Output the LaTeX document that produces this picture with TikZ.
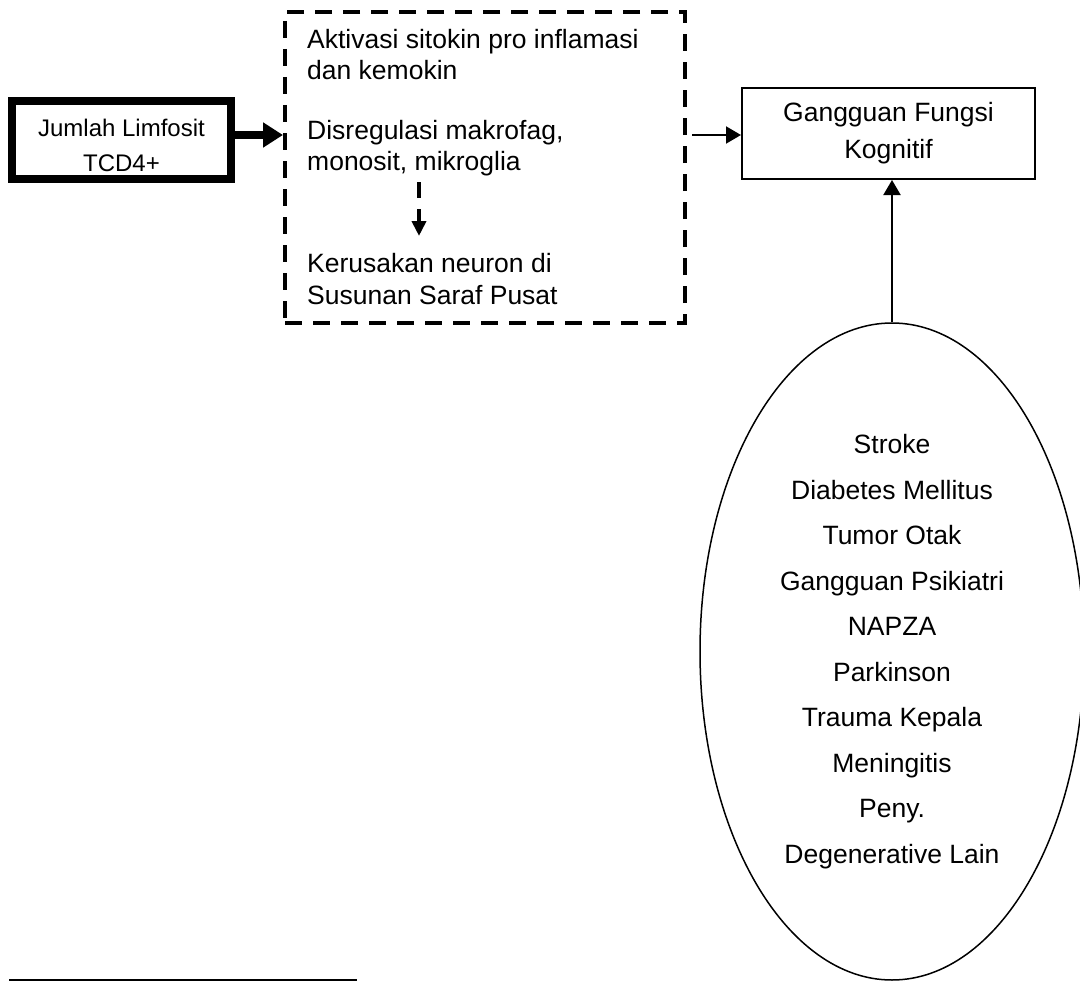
\documentclass[tikz,border=0pt]{standalone}
\usepackage{fontspec}
\setmainfont{Liberation Sans}
\usetikzlibrary{arrows.meta,shapes.geometric}
\tikzset{
  thickbox/.style={draw,line width=8pt,minimum width=219pt,minimum height=78pt,inner sep=0pt},
  smalltxt/.style={inner sep=0pt,align=center,font=\fontsize{24}{35}\selectfont},
  dashbox/.style={draw,line width=4pt,dash pattern=on 17pt off 11pt},
  thinbox/.style={draw,line width=2pt,minimum width=293pt,minimum height=91pt,inner sep=0pt,align=center,font=\fontsize{26.5}{37}\selectfont},
  txt/.style={inner sep=0pt,anchor=west,align=left,font=\fontsize{26.5}{31}\selectfont},
  ell/.style={draw,ellipse,line width=1.5pt,minimum width=384pt,minimum height=657pt,inner sep=0pt,align=center,font=\fontsize{26.5}{45.5}\selectfont},
  bigarrow/.style={line width=8pt,-{Triangle[length=20pt,width=24pt]}},
  thinarrow/.style={line width=2pt,-{Triangle[length=15pt,width=17pt]}},
  dasharrow/.style={line width=4pt,dash pattern=on 16pt off 11pt,-{Triangle[length=15pt,width=14pt]}},
}
\begin{document}
\begin{tikzpicture}[x=1pt,y=-1pt]
\useasboundingbox (0,0) rectangle (1080,982);
% left box
\node[thickbox] (lbox) at (121.5,140) {};
\node[smalltxt] (ltxt) at (121.5,145) {Jumlah Limfosit\\TCD4+};
% dashed box
\node[dashbox,minimum width=400pt,minimum height=311pt,inner sep=0pt] (dbox) at (485,167.5) {};
\node[txt] (t1) at (307,55) {Aktivasi sitokin pro inflamasi\\dan kemokin};
\node[txt] (t2) at (307,148) {Disregulasi makrofag,\\monosit, mikroglia};
\node[txt,font=\fontsize{26.5}{32}\selectfont] (t3) at (307,279) {Kerusakan neuron di\\Susunan Saraf Pusat};
\coordinate (d1) at (419,182);
\coordinate (d2) at (419,236);
\draw[dasharrow] (d1) -- (d2);
% right box
\node[thinbox] (rbox) at (888.5,133.5) {Gangguan Fungsi\\Kognitif};
% ellipse
\node[ell] (ell) at (892,651.5) {Stroke\\Diabetes Mellitus\\Tumor Otak\\Gangguan Psikiatri\\NAPZA\\Parkinson\\Trauma Kepala\\Meningitis\\Peny.\\Degenerative Lain};
% arrows
\draw[bigarrow] ([yshift=5pt]lbox.east) -- ([yshift=5pt]lbox.east -| dbox.west);
\draw[thinarrow,shorten <=5pt] (dbox.east |- 0,135) -- (rbox.west |- 0,135);
\draw[thinarrow] (ell.north) -- (ell.north |- rbox.south);
% footnote rule
\coordinate (f1) at (9,980);
\coordinate (f2) at (357,980);
\draw[line width=2.7pt] (f1) -- (f2);
\end{tikzpicture}
\end{document}
